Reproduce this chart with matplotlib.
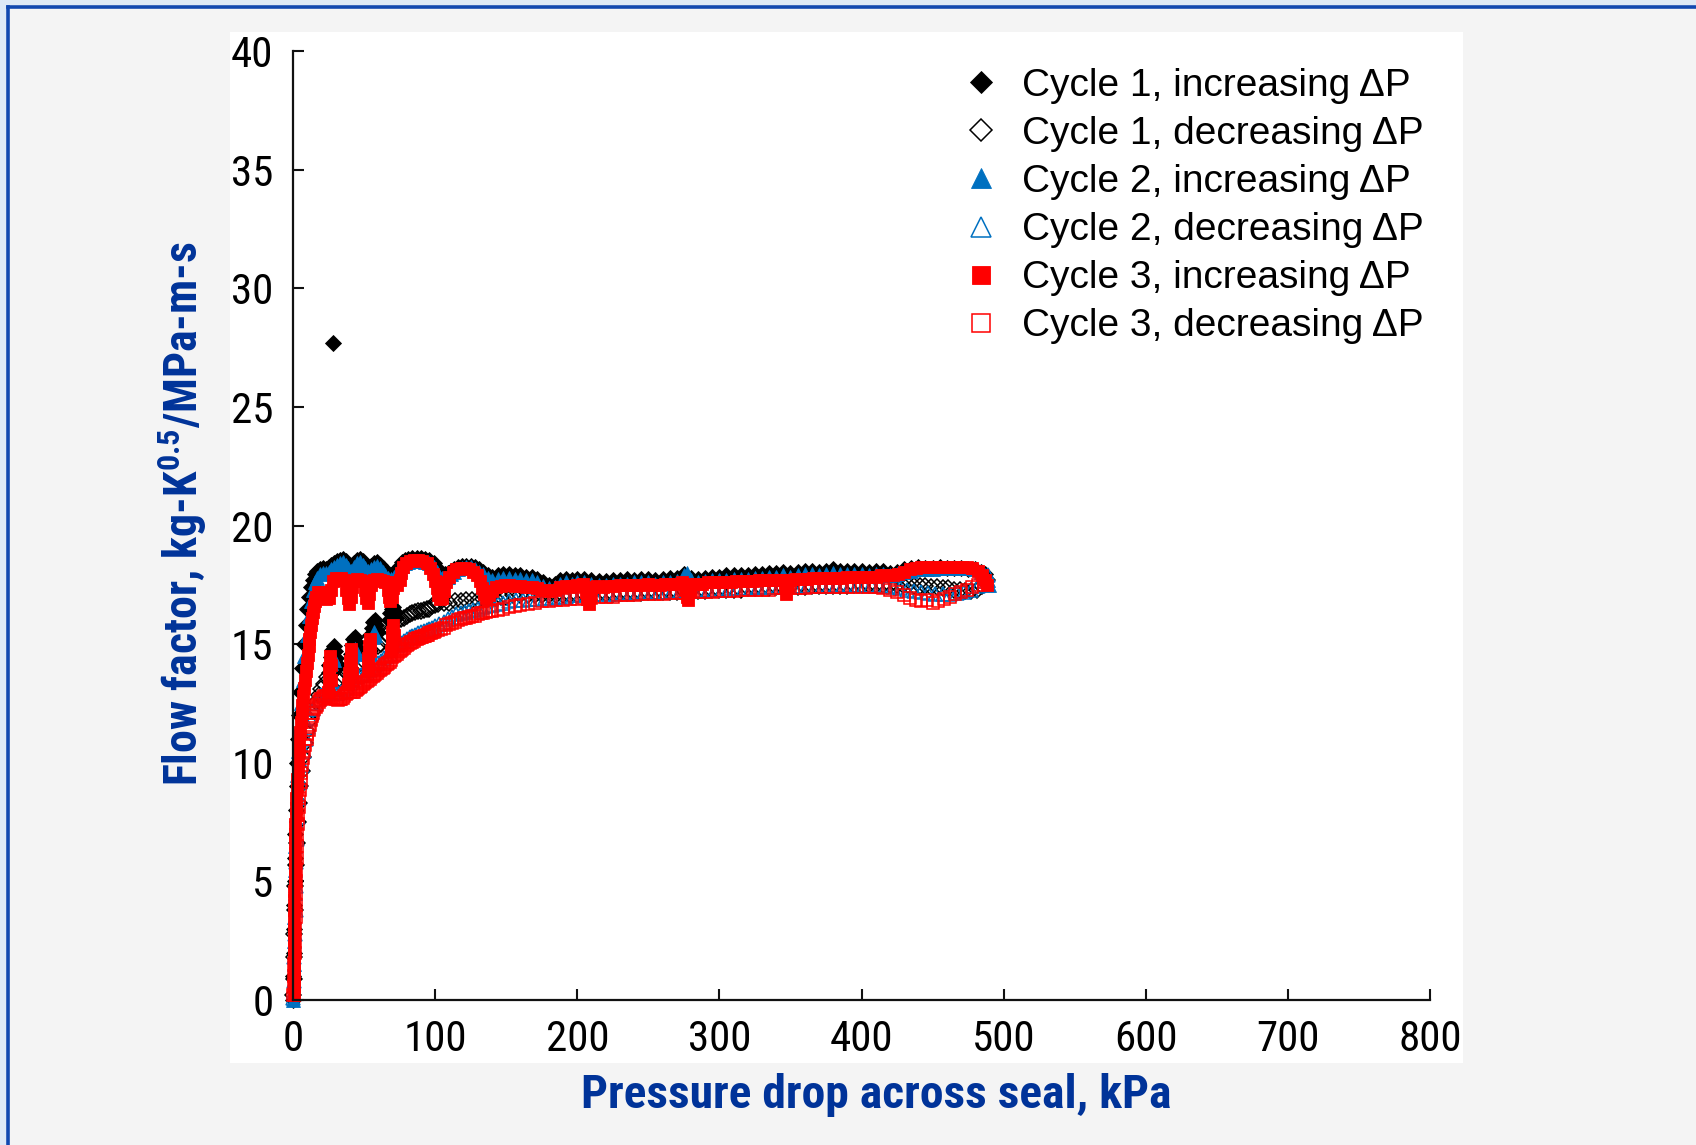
import matplotlib
matplotlib.use('Agg')
import matplotlib.pyplot as plt
from matplotlib import font_manager
from matplotlib.patches import Rectangle
from matplotlib.lines import Line2D

# ---------------- data ----------------
x_ticks = [0, 100, 200, 300, 400, 500, 600, 700, 800]
y_ticks = [0, 5, 10, 15, 20, 25, 30, 35, 40]

labels = ["Cycle 1, increasing \u0394P", "Cycle 1, decreasing \u0394P",
          "Cycle 2, increasing \u0394P", "Cycle 2, decreasing \u0394P",
          "Cycle 3, increasing \u0394P", "Cycle 3, decreasing \u0394P"]

cycle1_inc = [(0,0),(0.3,1.0),(0.5,2.0),(0.7,3.0),(0.9,4.0),(1.1,5.0),(1.4,6.0),(1.7,7.0),(2.0,8.0),(2.5,9.0),
    (3.0,10.0),(3.6,11.0),(4.3,12.0),(5.2,13.0),(6.3,14.0),(7.5,15.0),(8.8,15.8),(10,16.5),(11.2,17.0),(12.5,17.4),
    (14,17.7),(15.5,17.95),(17,18.1),(19,18.15),(21,18.2),(23,18.15),(25,18.25),(27,18.35),(28,27.7),(29,18.4),
    (31,18.5),(33,18.55),(35,18.6),(37,18.5),(39,18.35),(41,18.25),(43,18.4),(45,18.55),(47,18.6),(49,18.5),
    (51,18.35),(53,18.25),(55,18.3),(57,18.4),(59,18.45),(61,18.35),(63,18.2),(65,18.05),(67,17.95),(69,17.9),
    (71,18.0),(73,18.15),(75,18.3),(77,18.45),(79,18.55),(81,18.6),(84,18.65),(87,18.65),(90,18.65),(93,18.6),
    (96,18.55),(99,18.4),(101,18.2),(103,18.0),(105,17.95),(107,17.95),(109,18.0),(111,18.1),(113,18.15),(116,18.25),
    (119,18.3),(122,18.3),(125,18.3),(128,18.25),(131,18.15),(134,18.05),(137,17.9),(140,17.85),(144,17.9),(148,17.95),
    (152,17.95),(156,17.9),(160,17.9),(164,17.85),(168,17.85),(172,17.75),(176,17.6),(180,17.5),(184,17.55),(188,17.7),
    (192,17.75),(196,17.7),(200,17.75),(205,17.75),(210,17.7),(215,17.65),(220,17.65),(225,17.7),(230,17.7),(235,17.75),
    (240,17.7),(245,17.75),(250,17.75),(255,17.7),(260,17.75),(265,17.8),(270,17.8),(275,17.95),(280,17.8),(285,17.75),
    (290,17.8),(295,17.85),(300,17.85),(305,17.9),(310,17.9),(315,17.9),(320,17.9),(325,17.95),(330,17.95),(335,18.0),
    (340,18.0),(345,18.05),(350,18.0),(355,18.05),(360,18.1),(365,18.1),(370,18.05),(375,18.1),(380,18.15),(385,18.1),
    (390,18.1),(395,18.1),(400,18.1),(405,18.05),(410,18.1),(415,18.1),(420,18.0),(425,18.05),(430,18.15),(435,18.2),
    (440,18.25),(445,18.2),(450,18.2),(455,18.25),(460,18.2),(465,18.2),(470,18.2),(475,18.15),(480,18.15),(484,18.05),
    (487,17.95),
    # dips of the increasing run seen in the lower branch
    (25.5,14.1),(26.5,14.45),(27.5,14.75),(28.5,14.9),(29.5,14.7),(30.5,14.4),(31.5,14.1),
    (40.5,14.6),(41.5,14.95),(42.5,15.2),(43.5,15.3),(44.5,15.1),(45.5,14.8),
    (54.5,15.4),(55.5,15.7),(56.5,15.95),(57.5,16.0),(58.5,15.8),(59.5,15.5),
    (67.5,16.0),(68.5,16.3),(69.5,16.5),(70.5,16.55),(71.5,16.35),(72.5,16.1)]

cycle1_dec = [(488,17.7),(485,17.45),(481,17.3),(477,17.25),(473,17.25),(469,17.3),(465,17.3),(461,17.35),(457,17.35),
    (453,17.4),(449,17.4),(445,17.45),(441,17.45),(437,17.45),(433,17.5),(429,17.5),(425,17.5),(420,17.5),(415,17.5),
    (410,17.5),(405,17.5),(400,17.5),(395,17.5),(390,17.45),(385,17.45),(380,17.45),(375,17.45),(370,17.45),(365,17.45),
    (360,17.4),(355,17.4),(350,17.4),(345,17.4),(340,17.4),(335,17.35),(330,17.35),(325,17.35),(320,17.35),(315,17.3),
    (310,17.3),(305,17.3),(300,17.3),(295,17.3),(290,17.25),(285,17.25),(280,17.25),(275,17.25),(270,17.2),(265,17.2),
    (260,17.2),(255,17.2),(250,17.2),(245,17.15),(240,17.15),(235,17.15),(230,17.15),(225,17.1),(220,17.1),(215,17.1),
    (210,17.1),(205,17.1),(200,17.05),(195,17.05),(190,17.05),(185,17.05),(180,17.05),(175,17.05),(170,17.05),(165,17.05),
    (160,17.05),(155,17.05),(150,17.0),(146,17.0),(142,16.95),(138,16.95),(134,16.9),(130,16.85),(126,16.85),(122,16.85),
    (118,16.8),(114,16.8),(110,16.75),(106,16.75),(102,16.7),(100,16.65),(98,16.6),(96,16.5),(94,16.5),(92,16.45),
    (90,16.4),(88,16.4),(86,16.35),(84,16.3),(82,16.25),(80,16.2),(78,16.1),(76,16.05),(74,16.0),(68,15.6),
    (66,15.4),(64,15.2),(62,15.0),(60,14.9),(54,14.7),(52,14.5),(50,14.3),(48,14.2),(46,14.1),(40,14.0),
    (38,13.8),(36,13.6),(34,13.5),(32,13.5),(26,13.8),(24,13.6),(22,13.3),(20,13.1),(18,12.85),(16,12.55),
    (14,12.2),(12,11.8),(10,11.35),(8.5,10.85),(7,10.25),(6,9.65),(5,9.0),(4,8.3),(3.2,7.5),(2.6,6.6),
    (2.1,5.7),(1.7,4.8),(1.3,3.8),(1.0,2.8),(0.7,1.8),(0.4,0.9),(0.2,0.2)]

cycle2_inc = [(0,0),(0.2,0.4),(0.5,1.5),(0.7,2.5),(0.9,3.5),(1.1,4.5),(1.4,5.5),(1.7,6.5),(2.0,7.5),(2.5,8.5),
    (3.0,9.5),(3.7,10.5),(4.5,11.5),(5.5,12.5),(6.7,13.5),(8.0,14.5),(9.5,15.4),(11,16.2),(12.5,16.8),(14,17.3),
    (15.5,17.6),(17,17.8),(19,17.95),(21,18.0),(23,18.0),(25,18.05),(27,18.15),(29,18.25),(31,18.35),(33,18.4),
    (35,18.45),(37,18.35),(39,18.2),(41,18.1),(43,18.25),(45,18.4),(47,18.45),(49,18.35),(51,18.2),(53,18.1),
    (55,18.15),(57,18.25),(59,18.3),(61,18.2),(63,18.05),(65,17.9),(67,17.8),(69,17.75),(71,17.85),(73,18.0),
    (75,18.15),(77,18.3),(79,18.4),(81,18.45),(84,18.5),(87,18.5),(90,18.5),(93,18.45),(96,18.4),(99,18.25),
    (101,18.05),(103,17.85),(105,17.8),(107,17.8),(109,17.85),(111,17.95),(113,18.05),(116,18.15),(119,18.2),(122,18.25),
    (125,18.25),(128,18.15),(131,18.05),(134,17.95),(137,17.8),(140,17.7),(144,17.75),(148,17.8),(152,17.8),(156,17.75),
    (160,17.75),(164,17.7),(168,17.7),(172,17.6),(176,17.45),(180,17.35),(184,17.4),(188,17.55),(192,17.6),(196,17.55),
    (200,17.6),(205,17.6),(210,17.55),(215,17.5),(220,17.5),(225,17.55),(230,17.55),(235,17.55),(240,17.6),(245,17.6),
    (250,17.6),(255,17.55),(260,17.6),(265,17.6),(270,17.65),(275,17.9),(277,18.0),(280,17.7),(285,17.6),(290,17.65),
    (295,17.7),(300,17.7),(305,17.7),(310,17.75),(315,17.75),(320,17.75),(325,17.8),(330,17.8),(335,17.85),(340,17.85),
    (345,17.9),(350,17.85),(355,17.9),(360,17.95),(365,17.95),(370,17.9),(375,17.95),(380,18.0),(385,17.95),(390,17.95),
    (395,17.95),(400,17.95),(405,17.9),(410,17.95),(415,17.95),(420,17.9),(425,17.95),(430,18.05),(435,18.1),(440,18.15),
    (445,18.15),(450,18.15),(455,18.2),(460,18.2),(465,18.2),(470,18.2),(475,18.2),(480,18.15),(484,18.05),(487,17.9),
    (489,17.7),(490,17.5),
    (27,14.2),(28,14.45),(29,14.35),(41.5,14.5),(42.5,14.75),(43.5,14.8),(44.5,14.6),(56,15.3),(57,15.5),(58,15.4)]

cycle2_dec = [(0.2,0.1),(0.6,0.8),(1.0,1.8),(1.4,2.8),(1.8,3.8),(2.1,4.8),(2.4,5.8),(2.8,6.8),(3.3,7.7),(4.0,8.5),
    (5.0,9.2),(6.2,9.9),(7.5,10.5),(9,11.0),(10.5,11.5),(12,11.9),(14,12.25),(16,12.5),(18,12.7),(20,12.85),
    (22,12.95),(24,13.0),(26,13.1),(28,13.0),(30,12.95),(32,12.95),(34,13.0),(36,13.1),(38,13.2),(40,13.35),
    (42,13.5),(44,13.6),(46,13.65),(48,13.7),(50,13.7),(52,13.8),(54,13.9),(56,14.0),(58,14.1),
    (60,14.2),(62,14.3),(64,14.4),(66,14.5),(68,14.6),(70,14.9),(72,15.0),(74,14.95),(76,15.05),
    (78,15.15),(80,15.2),(82,15.3),(84,15.35),(86,15.4),(88,15.45),(90,15.5),(92,15.55),(94,15.6),(96,15.65),
    (98,15.7),(100,15.75),(103,15.85),(106,15.95),(109,16.05),(112,16.15),(115,16.25),(118,16.3),(121,16.35),(124,16.4),
    (127,16.45),(130,16.5),(133,16.55),(136,16.6),(140,16.65),(144,16.7),(148,16.75),(152,16.8),(157,16.85),(162,16.85),
    (167,16.9),(172,16.9),(177,16.95),(182,16.95),(187,17.0),(192,17.0),(197,17.05),(202,17.05),(207,17.05),(212,17.1),
    (217,17.1),(222,17.1),(227,17.1),(232,17.15),(237,17.15),(242,17.15),(247,17.2),(252,17.2),(257,17.2),(262,17.2),
    (267,17.25),(272,17.25),(277,17.25),(282,17.25),(287,17.3),(292,17.3),(297,17.3),(302,17.3),(307,17.35),(312,17.35),
    (317,17.35),(322,17.35),(327,17.4),(332,17.4),(337,17.4),(342,17.4),(347,17.4),(352,17.45),(357,17.45),(362,17.45),
    (367,17.45),(372,17.45),(377,17.45),(382,17.5),(387,17.5),(392,17.5),(397,17.5),(402,17.5),(407,17.5),(412,17.45),
    (417,17.45),(422,17.4),(427,17.35),(432,17.3),(437,17.25),(442,17.2),(447,17.15),(452,17.1),(457,17.1),(462,17.1),
    (467,17.15),(472,17.2),(477,17.3),(482,17.45),(486,17.65),(489,17.9)]

cycle3_inc = [(0.4,0.2),(0.5,0.6),(0.6,1.0),(0.6,1.4),(0.7,1.8),(0.7,2.2),(0.8,2.6),(0.8,3.0),(0.9,3.4),(0.9,3.8),
    (1.0,4.2),(1.0,4.6),(1.1,5.0),(1.2,5.4),(1.3,5.8),(1.4,6.2),(1.5,6.6),(1.6,7.0),(1.7,7.4),(1.8,7.8),
    (2.0,8.1),(2.2,8.5),(2.5,8.9),(2.8,9.3),(3.2,9.7),(3.6,10.1),(4.0,10.5),(4.5,10.9),(5.0,11.3),(5.5,11.7),
    (6.0,12.1),(6.6,12.45),(7.2,12.8),(7.8,13.15),(8.5,13.5),(9.1,13.85),(9.8,14.2),(10.4,14.55),(11,14.9),(11.6,15.2),
    (12.2,15.5),(12.8,15.8),(13.4,16.1),(14,16.35),(14.6,16.6),(15.3,16.8),(16,17.0),(17.5,17.2),(19,17.2),(21,17.05),
    (23,16.9),(25,16.95),(26.5,17.3),(28,17.65),(30,17.8),(32,17.75),(34,17.8),(36,17.7),(37.5,17.3),(38.5,16.95),
    (39.5,16.7),(40.5,17.0),(41.5,17.4),(43,17.65),(45,17.75),(47,17.7),(49,17.65),(50.5,17.3),(51.5,16.95),(52.5,16.75),
    (53.5,17.1),(55,17.5),(57,17.7),(59,17.75),(61,17.7),(63,17.65),(65,17.6),(66.5,17.3),(67.5,17.0),(68.5,16.8),
    (69.5,17.0),(70.5,17.35),(72,17.6),(73.5,17.5),(75,17.7),(76,18.0),(77.5,18.25),(79.5,18.4),(82,18.5),(85,18.55),
    (88,18.55),(91,18.5),(94,18.4),(96.5,18.2),(98.5,17.95),(100,17.65),(101,17.35),(102,17.05),(103.5,16.9),(105,16.95),
    (106.5,17.25),(108,17.6),(110,17.85),(112.5,18.05),(115,18.15),(118,18.2),(121,18.2),(124,18.15),(127,18.05),(129.5,17.9),
    (131.5,17.65),(133,17.35),(134.5,17.1),(136,16.95),(138,17.05),(140,17.25),(143,17.4),(146,17.45),(149,17.5),(152,17.5),
    (156,17.45),(160,17.45),(164,17.4),(168,17.4),(172,17.35),(176,17.3),(180,17.25),(184,17.3),(188,17.4),(192,17.45),
    (196,17.45),(200,17.5),(204,17.55),(206,17.2),(207,16.9),(208,16.7),(209,17.0),(210,17.4),(214,17.45),(218,17.4),
    (222,17.45),(226,17.45),(230,17.5),(234,17.5),(238,17.5),(242,17.5),(246,17.5),(250,17.55),(254,17.5),(258,17.5),
    (262,17.55),(266,17.55),(270,17.55),(274,17.6),(276,17.3),(277,17.0),(278,16.85),(279,17.2),(280,17.55),(284,17.55),
    (288,17.55),(292,17.6),(296,17.6),(300,17.6),(304,17.6),(308,17.6),(312,17.65),(316,17.65),(320,17.65),(324,17.65),
    (328,17.7),(332,17.7),(336,17.7),(340,17.7),(344,17.7),(346,17.4),(347,17.1),(348,17.4),(350,17.7),(354,17.75),
    (358,17.75),(362,17.75),(366,17.8),(370,17.8),(374,17.8),(378,17.8),(382,17.8),(386,17.8),(390,17.85),(394,17.85),
    (398,17.85),(402,17.85),(406,17.85),(410,17.85),(414,17.9),(418,17.9),(422,17.9),(426,17.95),(430,18.05),(434,18.15),
    (438,18.2),(442,18.25),(446,18.25),(450,18.25),(454,18.25),(458,18.25),(462,18.25),(466,18.25),(470,18.25),(474,18.25),
    (478,18.2),(482,18.1),(485,17.9),(487,17.7),(488,17.5),
    # spikes of the increasing run seen in the lower branch
    (24.5,13.0),(25,13.5),(25.5,14.0),(26,14.5),(26.5,14.1),(27,13.5),
    (39,13.3),(39.5,13.8),(40,14.3),(40.5,14.8),(41,14.3),(41.5,13.8),
    (52.5,13.9),(53,14.4),(53.5,14.9),(54,15.2),(54.5,14.7),
    (69,14.7),(69.5,15.1),(70,15.5),(70.5,15.8),(71,15.4)]

cycle3_dec = [(0.3,0.2),(0.5,0.6),(0.8,1.0),(1.0,1.5),(1.2,2.0),(1.4,2.5),(1.6,3.0),(1.8,3.5),(2.0,4.0),(2.1,4.5),
    (2.3,5.0),(2.4,5.5),(2.6,6.0),(2.8,6.5),(3.0,7.0),(3.2,7.4),(3.5,7.8),(3.9,8.15),(4.3,8.5),(4.8,8.85),
    (5.3,9.2),(5.9,9.55),(6.5,9.9),(7.2,10.2),(8,10.5),(8.7,10.75),(9.5,11.0),(10.2,11.2),(11,11.4),(11.7,11.6),
    (12.5,11.8),(13.2,11.95),(14,12.1),(15,12.25),(16,12.35),(17,12.45),(18,12.55),(19,12.65),(20,12.7),(21,12.75),
    (22,12.8),(23,12.8),(24,12.8),(25,12.8),(26,12.75),(27,12.75),(28,12.75),(29,12.7),(30,12.7),(31,12.7),
    (32,12.65),(33,12.7),(34,12.7),(35,12.75),(36,12.8),(37,12.9),(38,12.95),(39,13.0),(40,13.0),(41,13.0),
    (42,13.0),(43,13.0),(44,13.05),(45,13.1),(46,13.15),(47,13.2),(48,13.25),(49,13.3),(50,13.35),(51,13.4),
    (52,13.45),(53,13.5),(54,13.55),(55,13.6),(56,13.65),(57,13.7),(58,13.75),(59,13.8),(60,13.85),(61,13.9),
    (62,13.95),(63,14.0),(64,14.05),(65,14.1),(66,14.15),(67,14.2),(68,14.25),(69,14.35),(70,14.45),(71,14.5),
    (72,14.55),(73,14.6),(74,14.65),(75,14.7),(76,14.75),(77,14.8),(78,14.85),(79,14.9),(80,14.95),(81,15.0),
    (82,15.05),(83,15.1),(84,15.1),(85,15.15),(86,15.2),(87,15.2),(88,15.25),(89,15.25),(90,15.3),(91,15.3),
    (92,15.35),(93,15.35),(94,15.4),(95,15.4),(96,15.45),(97,15.45),(98,15.5),(99,15.5),(100,15.55),(102,15.6),
    (104,15.65),(106,15.7),(108,15.8),(110,15.85),(112,15.9),(114,15.95),(116,16.0),(118,16.05),(120,16.1),(122,16.1),
    (124,16.15),(126,16.2),(128,16.2),(130,16.25),(132,16.3),(134,16.3),(136,16.35),(138,16.4),(140,16.4),(144,16.45),
    (148,16.5),(152,16.55),(156,16.6),(160,16.65),(165,16.7),(170,16.75),(175,16.8),(180,16.8),(185,16.85),(190,16.85),
    (195,16.9),(200,16.9),(205,16.95),(210,16.95),(215,17.0),(220,17.0),(225,17.0),(230,17.05),(235,17.05),(240,17.05),
    (245,17.1),(250,17.1),(255,17.1),(260,17.1),(265,17.15),(270,17.15),(275,17.15),(280,17.2),(285,17.2),(290,17.2),
    (295,17.2),(300,17.25),(305,17.25),(310,17.25),(315,17.3),(320,17.3),(325,17.3),(330,17.3),(335,17.3),(340,17.35),
    (345,17.35),(350,17.35),(355,17.35),(360,17.35),(365,17.4),(370,17.4),(375,17.4),(380,17.4),(385,17.4),(390,17.4),
    (395,17.4),(400,17.4),(405,17.4),(410,17.4),(415,17.35),(420,17.3),(425,17.2),(430,17.05),(434,16.95),(438,16.85),
    (442,16.8),(446,16.85),(450,16.75),(454,16.8),(458,16.9),(462,17.0),(466,17.1),(470,17.2),(474,17.3),(478,17.4),
    (482,17.5),(486,17.6)]

# ---------------- fonts ----------------
names = {f.name for f in font_manager.fontManager.ttflist}
COND = None
for cand in ['Liberation Sans Narrow', 'Roboto Condensed', 'Open Sans Condensed']:
    if cand in names:
        COND = cand
        break
REG = 'Liberation Sans'
if COND is None:
    COND = REG
    TICK_FS, XLAB_FS, YLAB_FS = 29, 29, 29
else:
    TICK_FS, XLAB_FS, YLAB_FS = 31, 34.2, 33

plt.rcParams['font.family'] = [REG, 'DejaVu Sans']
plt.rcParams['mathtext.fontset'] = 'custom'
plt.rcParams['mathtext.rm'] = COND + ':bold'
plt.rcParams['mathtext.bf'] = COND + ':bold'
plt.rcParams['mathtext.it'] = COND + ':bold'

W, H = 1696, 1145
fig = plt.figure(figsize=(W / 100, H / 100), dpi=100)
fig.patch.set_facecolor('#f4f4f4')

def fx(px):
    return px / W

def fy(py):
    return 1 - py / H

# frame decoration (light strip + blue line top and left)
fig.add_artist(Rectangle((0, fy(5)), 1, 5 / H, transform=fig.transFigure, facecolor='#dde9f6', edgecolor='none', zorder=0))
fig.add_artist(Rectangle((0, 0), 6 / W, 1, transform=fig.transFigure, facecolor='#dde9f6', edgecolor='none', zorder=0))
fig.add_artist(Line2D([fx(7.5), 1], [fy(6.5), fy(6.5)], transform=fig.transFigure, color='#1048b0', lw=2.6, zorder=1))
fig.add_artist(Line2D([fx(7.5), fx(7.5)], [0, fy(6.5)], transform=fig.transFigure, color='#1048b0', lw=2.6, zorder=1))
# white plot panel
fig.add_artist(Rectangle((fx(230), fy(1063)), (1463 - 230) / W, (1063 - 32) / H, transform=fig.transFigure,
                         facecolor='white', edgecolor='none', zorder=0))

ax = fig.add_axes([fx(293), fy(1000), (1430 - 293) / W, (1000 - 51) / H])
ax.set_facecolor('none')
ax.set_zorder(2)

styles = [
    dict(marker='D', ms=7.8, mfc='black', mec='black', mew=0.6),
    dict(marker='D', ms=7.8, mfc='none', mec='black', mew=1.1),
    dict(marker='^', ms=9.5, mfc='#0070c0', mec='#0070c0', mew=0.6),
    dict(marker='^', ms=9.5, mfc='none', mec='#0070c0', mew=1.1),
    dict(marker='s', ms=9.0, mfc='#ff0000', mec='#ff0000', mew=0.6),
    dict(marker='s', ms=9.0, mfc='none', mec='#ff0000', mew=1.1),
]
series = [cycle1_inc, cycle1_dec, cycle2_inc, cycle2_dec, cycle3_inc, cycle3_dec]
handles = []
for pts, st, lab in zip(series, styles, labels):
    xs = [p[0] for p in pts]
    ys = [p[1] for p in pts]
    h, = ax.plot(xs, ys, ls='none', clip_on=False, label=lab, **st)
    handles.append(h)

ax.set_xlim(0, 800)
ax.set_ylim(0, 40)
ax.set_xticks(x_ticks)
ax.set_yticks(y_ticks)
for s in ['top', 'right']:
    ax.spines[s].set_visible(False)
for s in ['left', 'bottom']:
    ax.spines[s].set_linewidth(1.6)
    ax.spines[s].set_color('#111111')
ax.tick_params(direction='in', length=8, width=1.5, colors='#111111', labelcolor='black')
ax.tick_params(axis='y', pad=14)
ax.tick_params(axis='x', pad=14)
for lab in ax.get_xticklabels() + ax.get_yticklabels():
    lab.set_fontfamily(COND)
    lab.set_fontsize(TICK_FS)

leg = ax.legend(handles=handles, loc='upper left', bbox_to_anchor=(fx(962), fy(68)),
                bbox_transform=fig.transFigure, frameon=False, fontsize=28, markerscale=1.5,
                handlelength=1.0, handletextpad=0.55, labelspacing=0.31, borderpad=0, borderaxespad=0)
for t in leg.get_texts():
    t.set_fontfamily([REG, 'DejaVu Sans'])

fig.text(fx(876), fy(1095), 'Pressure drop across seal, kPa', ha='center', va='center',
         fontsize=XLAB_FS, fontweight='bold', family=COND, color='#003399')
fig.text(fx(182), fy(514), r'Flow factor, kg-K$^{\mathrm{0.5}}$/MPa-m-s', ha='center', va='center',
         rotation=90, fontsize=YLAB_FS, fontweight='bold', family=COND, color='#003399')

fig.savefig('out.png', dpi=100, facecolor=fig.get_facecolor())
